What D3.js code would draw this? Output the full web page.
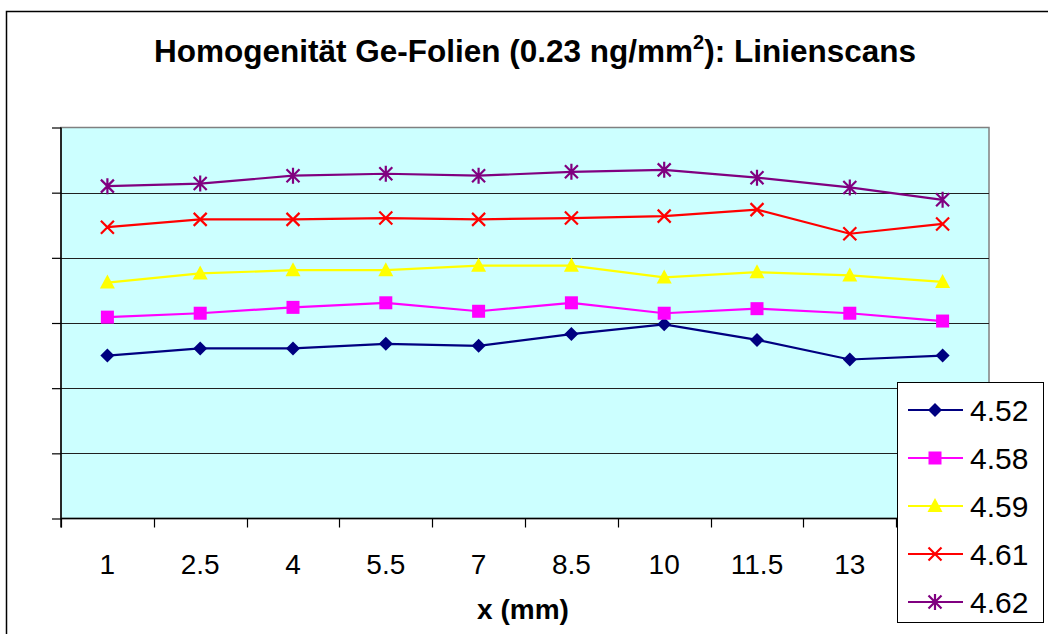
<!DOCTYPE html>
<html>
<head>
<meta charset="utf-8">
<script src="https://cdn.jsdelivr.net/npm/d3@7/dist/d3.min.js"></script>
<style>
  html, body { margin: 0; padding: 0; background: #fff; }
  svg { display: block; font-family: "Liberation Sans", Arial, sans-serif; }
</style>
</head>
<body>
<svg id="chart" width="1048" height="634"></svg>
<script>
// Scan positions along the foil (mm)
const categories = ["1", "2.5", "4", "5.5", "7", "8.5", "10", "11.5", "13", "14.5"];

// Series names (mean values shown in the legend)
const seriesNames = ["4.52", "4.58", "4.59", "4.61", "4.62"];

// Line-scan values per series
const s452 = [2.50, 2.61, 2.61, 2.68, 2.65, 2.83, 2.98, 2.74, 2.44, 2.50];
const s458 = [3.09, 3.15, 3.24, 3.31, 3.18, 3.31, 3.15, 3.22, 3.15, 3.03];
const s459 = [3.62, 3.76, 3.81, 3.81, 3.88, 3.88, 3.70, 3.78, 3.73, 3.63];
const s461 = [4.47, 4.59, 4.59, 4.61, 4.59, 4.61, 4.64, 4.74, 4.37, 4.52];
const s462 = [5.10, 5.14, 5.26, 5.29, 5.26, 5.32, 5.35, 5.23, 5.08, 4.89];

// Value axis range and gridline steps
const yDomain = [0, 6];
const yTicks = [0, 1, 2, 3, 4, 5, 6];

const seriesValues = [s452, s458, s459, s461, s462];
const colors = ["#000080", "#FF00FF", "#FFFF00", "#FF0000", "#800080"];
const markers = ["diamond", "square", "triangle", "cross", "star"];

const svg = d3.select("#chart");

// Outer chart frame
svg.append("rect")
  .attr("x", 6.5).attr("y", 11.5)
  .attr("width", 1200).attr("height", 800)
  .attr("fill", "#fff").attr("stroke", "#000").attr("stroke-width", 1.5);

const plot = { left: 61, right: 989, top: 127.5, bottom: 518.5 };

const x = d3.scaleBand().domain(categories).range([plot.left, plot.right]).padding(0);
const y = d3.scaleLinear().domain(yDomain).range([plot.bottom, plot.top]);
const cx = c => x(c) + x.bandwidth() / 2;

// Plot background
svg.append("rect")
  .attr("x", plot.left).attr("y", plot.top)
  .attr("width", plot.right - plot.left).attr("height", plot.bottom - plot.top)
  .attr("fill", "#CCFFFF").attr("stroke", "#808080").attr("stroke-width", 1.5);

// Horizontal gridlines
svg.append("g").selectAll("line")
  .data(yTicks.slice(1, -1))
  .join("line")
  .attr("x1", plot.left).attr("x2", plot.right)
  .attr("y1", d => Math.round(y(d)) + 0.5).attr("y2", d => Math.round(y(d)) + 0.5)
  .attr("stroke", "#202020").attr("stroke-width", 1.2);

// Value axis: line and outward ticks, no labels
const yAxis = svg.append("g")
  .attr("transform", `translate(${plot.left},0)`)
  .call(d3.axisLeft(y).tickValues(yTicks).tickSize(9).tickFormat(""));
yAxis.select(".domain").attr("stroke", "#000").attr("stroke-width", 1.5).attr("d", `M0,${plot.top}V${plot.bottom + 9}`);
yAxis.selectAll(".tick line").attr("stroke", "#000").attr("stroke-width", 1.2);

// Category axis
const xAxis = svg.append("g")
  .attr("transform", `translate(0,${plot.bottom})`)
  .call(d3.axisBottom(x).tickSize(0).tickPadding(0));
xAxis.select(".domain").attr("stroke", "#000").attr("stroke-width", 1.5).attr("d", `M${plot.left},0H${plot.right}`);
xAxis.selectAll(".tick text")
  .attr("y", 55)
  .attr("dy", null)
  .attr("fill", "#000")
  .style("font-size", "28px")
  .style("font-family", "'Liberation Sans', Arial, sans-serif");

// Tick marks at category boundaries
const boundaries = categories.map(c => x(c)).concat([plot.right]);
svg.append("g").selectAll("line")
  .data(boundaries)
  .join("line")
  .attr("x1", d => Math.round(d) + 0.5).attr("x2", d => Math.round(d) + 0.5)
  .attr("y1", plot.bottom).attr("y2", plot.bottom + 9)
  .attr("stroke", "#000").attr("stroke-width", 1.2);

// Marker shapes
function drawMarker(g, type, color, px, py) {
  const s = 7;
  if (type === "diamond") {
    g.append("path").attr("d", `M${px},${py - s}L${px + s},${py}L${px},${py + s}L${px - s},${py}Z`).attr("fill", color);
  } else if (type === "square") {
    g.append("rect").attr("x", px - 6.5).attr("y", py - 6.5).attr("width", 13).attr("height", 13).attr("fill", color);
  } else if (type === "triangle") {
    g.append("path").attr("d", `M${px},${py - 8}L${px + 7.5},${py + 6}L${px - 7.5},${py + 6}Z`).attr("fill", color);
  } else if (type === "cross") {
    g.append("path").attr("d", `M${px - 6.5},${py - 6.5}L${px + 6.5},${py + 6.5}M${px - 6.5},${py + 6.5}L${px + 6.5},${py - 6.5}`)
      .attr("stroke", color).attr("stroke-width", 2.2).attr("fill", "none");
  } else if (type === "star") {
    g.append("path").attr("d", `M${px - 6.5},${py - 6.5}L${px + 6.5},${py + 6.5}M${px - 6.5},${py + 6.5}L${px + 6.5},${py - 6.5}M${px},${py - 8}L${px},${py + 8}`)
      .attr("stroke", color).attr("stroke-width", 2.2).attr("fill", "none");
  }
}

const line = d3.line().x((d, i) => cx(categories[i])).y(d => y(d));

seriesValues.forEach((vals, si) => {
  const g = svg.append("g");
  g.append("path").datum(vals).attr("d", line)
    .attr("fill", "none").attr("stroke", colors[si]).attr("stroke-width", 2.2);
  vals.forEach((v, i) => drawMarker(g, markers[si], colors[si], cx(categories[i]), y(v)));
});

// Title
const title = svg.append("text")
  .attr("x", 535).attr("y", 62)
  .attr("text-anchor", "middle")
  .style("font-size", "31.5px").style("font-weight", "bold").attr("fill", "#000");
title.append("tspan").text("Homogenität Ge-Folien (0.23 ng/mm");
title.append("tspan").attr("dy", -13).style("font-size", "20px").text("2");
title.append("tspan").attr("dy", 13).text("): Linienscans");

// Axis title
svg.append("text")
  .attr("x", 523).attr("y", 619)
  .attr("text-anchor", "middle")
  .style("font-size", "28px").style("font-weight", "bold").attr("fill", "#000")
  .text("x (mm)");

// Legend
const legend = svg.append("g");
legend.append("rect")
  .attr("x", 897.5).attr("y", 382.5).attr("width", 146).attr("height", 240)
  .attr("fill", "#fff").attr("stroke", "#000").attr("stroke-width", 1);
seriesNames.forEach((name, si) => {
  const ly = 410 + si * 48;
  const g = legend.append("g");
  g.append("line").attr("x1", 908).attr("x2", 963).attr("y1", ly).attr("y2", ly)
    .attr("stroke", colors[si]).attr("stroke-width", 2);
  drawMarker(g, markers[si], colors[si], 935, ly);
  g.append("text").attr("x", 970).attr("y", ly + 11)
    .style("font-size", "30px").attr("fill", "#000").text(name);
});
</script>
</body>
</html>
